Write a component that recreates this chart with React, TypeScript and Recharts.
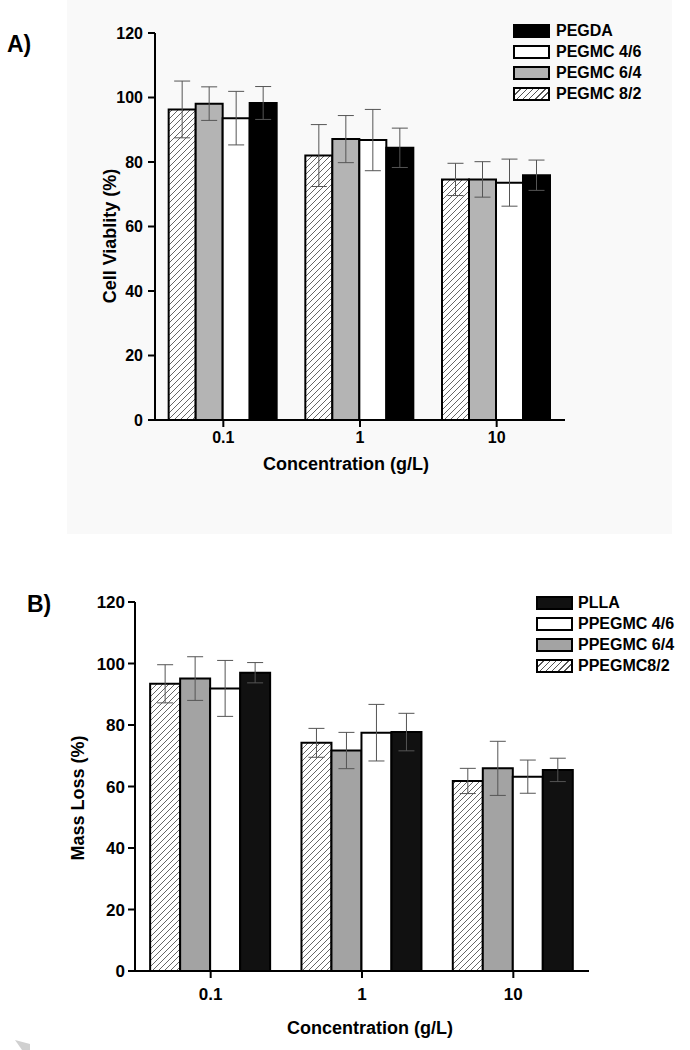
import React from 'react';
import { BarChart, Bar, XAxis, YAxis, ErrorBar, Legend } from 'recharts';

const FONT = 'Arial, "Liberation Sans", sans-serif';

// categories
const concentrations = ['0.1', '1', '10'];
const yTicks = [0, 20, 40, 60, 80, 100, 120];

// A) cell viability
const viab82 = [96.3, 82.0, 74.6];
const viab82Err = [8.8, 9.6, 5.0];
const viab64 = [98.1, 87.1, 74.6];
const viab64Err = [5.2, 7.3, 5.5];
const viab46 = [93.6, 86.8, 73.6];
const viab46Err = [8.3, 9.5, 7.3];
const viabDA = [98.3, 84.4, 75.9];
const viabDAErr = [5.1, 6.1, 4.7];

// B) mass loss
const mass82 = [93.4, 74.2, 61.8];
const mass82Err = [6.2, 4.7, 4.1];
const mass64 = [95.1, 71.7, 65.9];
const mass64Err = [7.1, 5.9, 8.8];
const mass46 = [91.9, 77.5, 63.2];
const mass46Err = [9.1, 9.2, 5.4];
const massLA = [97.0, 77.7, 65.4];
const massLAErr = [3.3, 6.1, 3.8];

const namesA = ['PEGMC 8/2', 'PEGMC 6/4', 'PEGMC 4/6', 'PEGDA'];
const namesB = ['PPEGMC8/2', 'PPEGMC 6/4', 'PPEGMC 4/6', 'PLLA'];

const build = (vals: number[][], errs: number[][]) =>
  concentrations.map((c, i) => ({
    c,
    v0: vals[0][i], e0: errs[0][i],
    v1: vals[1][i], e1: errs[1][i],
    v2: vals[2][i], e2: errs[2][i],
    v3: vals[3][i], e3: errs[3][i],
  }));

const dataA = build([viab82, viab64, viab46, viabDA], [viab82Err, viab64Err, viab46Err, viabDAErr]);
const dataB = build([mass82, mass64, mass46, massLA], [mass82Err, mass64Err, mass46Err, massLAErr]);

const HATCH_CSS = 'repeating-linear-gradient(135deg, #fff 0px, #fff 3.4px, #555 3.4px, #555 4.4px)';

const Swatch = ({ fill }: { fill: string }) => (
  <div
    style={{
      width: 37, height: 14, boxSizing: 'border-box', border: '2px solid #000',
      background: fill === 'hatch' ? HATCH_CSS : fill,
    }}
  />
);

const makeLegend = (names: string[], fills: string[], gap: number) => () => (
  <div style={{ fontFamily: FONT, fontWeight: 'bold', fontSize: 16, color: '#000' }}>
    {[3, 2, 1, 0].map((k) => (
      <div key={k} style={{ display: 'flex', alignItems: 'center', height: 20.9 }}>
        <Swatch fill={fills[k]} />
        <span style={{ marginLeft: gap, lineHeight: '16px' }}>{names[k]}</span>
      </div>
    ))}
  </div>
);

type PanelProps = {
  id: string;
  data: any[];
  names: string[];
  gray: string;
  black: string;
  height: number;
  margin: { top: number; right: number; bottom: number; left: number };
  tickFont: number;
  yTickMargin: number;
  xTickMargin: number;
  yTitle: string;
  yTitlePos: [number, number];
  xTitlePos: [number, number];
  legendPos: { left: number; top: number };
  legendGap: number;
};

const Panel = (p: PanelProps) => {
  const fills = [`url(#hatch${p.id})`, p.gray, '#fff', p.black];
  const legendFills = ['hatch', p.gray, '#fff', p.black];
  const tick = { fill: '#000', fontSize: p.tickFont, fontWeight: 'bold', fontFamily: FONT };
  return (
    <BarChart
      width={690}
      height={p.height}
      data={p.data}
      margin={p.margin}
      barGap={0}
      barCategoryGap="10%"
    >
      <defs>
        <pattern id={`hatch${p.id}`} patternUnits="userSpaceOnUse" width={6} height={6}>
          <rect width={6} height={6} fill="#fff" />
          <path d="M-1,1 l2,-2 M0,6 l6,-6 M5,7 l2,-2" stroke="#555" strokeWidth={0.9} />
        </pattern>
      </defs>
      <XAxis
        dataKey="c"
        height={30}
        axisLine={{ stroke: '#000', strokeWidth: 2 }}
        tickLine={{ stroke: '#000', strokeWidth: 2 }}
        tickSize={7}
        tickMargin={p.xTickMargin}
        tick={tick}
        label={() => (
          <text
            x={p.xTitlePos[0]} y={p.xTitlePos[1]} textAnchor="middle"
            fontFamily={FONT} fontWeight="bold" fontSize={18} fill="#000"
          >
            Concentration (g/L)
          </text>
        )}
      />
      <YAxis
        width={60}
        domain={[0, 120]}
        ticks={yTicks}
        axisLine={{ stroke: '#000', strokeWidth: 2 }}
        tickLine={{ stroke: '#000', strokeWidth: 2 }}
        tickSize={7}
        tickMargin={p.yTickMargin}
        tick={tick}
        label={() => (
          <text
            x={p.yTitlePos[0]} y={p.yTitlePos[1]} textAnchor="middle" dominantBaseline="central"
            transform={`rotate(-90 ${p.yTitlePos[0]} ${p.yTitlePos[1]})`}
            fontFamily={FONT} fontWeight="bold" fontSize={18} fill="#000"
          >
            {p.yTitle}
          </text>
        )}
      />
      <Legend
        layout="vertical"
        align="center"
        verticalAlign="middle"
        content={makeLegend(p.names, legendFills, p.legendGap)}
        wrapperStyle={{ left: p.legendPos.left, top: p.legendPos.top, width: 160, bottom: 'auto', right: 'auto' }}
      />
      {[0, 1, 2, 3].map((k) => (
        <Bar
          key={k}
          dataKey={`v${k}`}
          name={p.names[k]}
          fill={fills[k]}
          stroke="#000"
          strokeWidth={2}
          isAnimationActive={false}
        >
          <ErrorBar dataKey={`e${k}`} width={8} stroke="#555" strokeWidth={1} isAnimationActive={false} />
        </Bar>
      ))}
    </BarChart>
  );
};

export default function App() {
  return (
    <div style={{ position: 'absolute', left: 0, top: 0, width: 690, height: 1050, background: '#fff', fontFamily: FONT }}>
      <div style={{ position: 'absolute', left: 67, top: 0, width: 605, height: 534, background: '#f9f9f9' }} />
      <div style={{ position: 'absolute', left: 0, top: 0 }}>
        <Panel
          id="A"
          data={dataA}
          names={namesA}
          gray="#b4b4b4"
          black="#000"
          height={535}
          margin={{ top: 33, right: 125, bottom: 85, left: 95 }}
          tickFont={16}
          yTickMargin={5}
          xTickMargin={5}
          yTitle="Cell Viablity (%)"
          yTitlePos={[110, 236]}
          xTitlePos={[346, 470]}
          legendPos={{ left: 513, top: 20.5 }}
          legendGap={6}
        />
      </div>
      <div style={{ position: 'absolute', left: 0, top: 535 }}>
        <Panel
          id="B"
          data={dataB}
          names={namesB}
          gray="#a3a3a3"
          black="#111"
          height={515}
          margin={{ top: 67, right: 101, bottom: 49, left: 75 }}
          tickFont={17}
          yTickMargin={3}
          xTickMargin={10}
          yTitle="Mass Loss (%)"
          yTitlePos={[78, 263]}
          xTitlePos={[370, 499]}
          legendPos={{ left: 536, top: 57.5 }}
          legendGap={5}
        />
      </div>
      <svg width={690} height={1050} style={{ position: 'absolute', left: 0, top: 0, pointerEvents: 'none' }}>
        <text x={7} y={52} fontFamily={FONT} fontWeight="bold" fontSize={23} fill="#000">A)</text>
        <text x={27} y={612} fontFamily={FONT} fontWeight="bold" fontSize={23} fill="#000">B)</text>
        <polygon points="15,1040 30,1044 30,1050 22,1050" fill="#d0d0d0" />
      </svg>
    </div>
  );
}
